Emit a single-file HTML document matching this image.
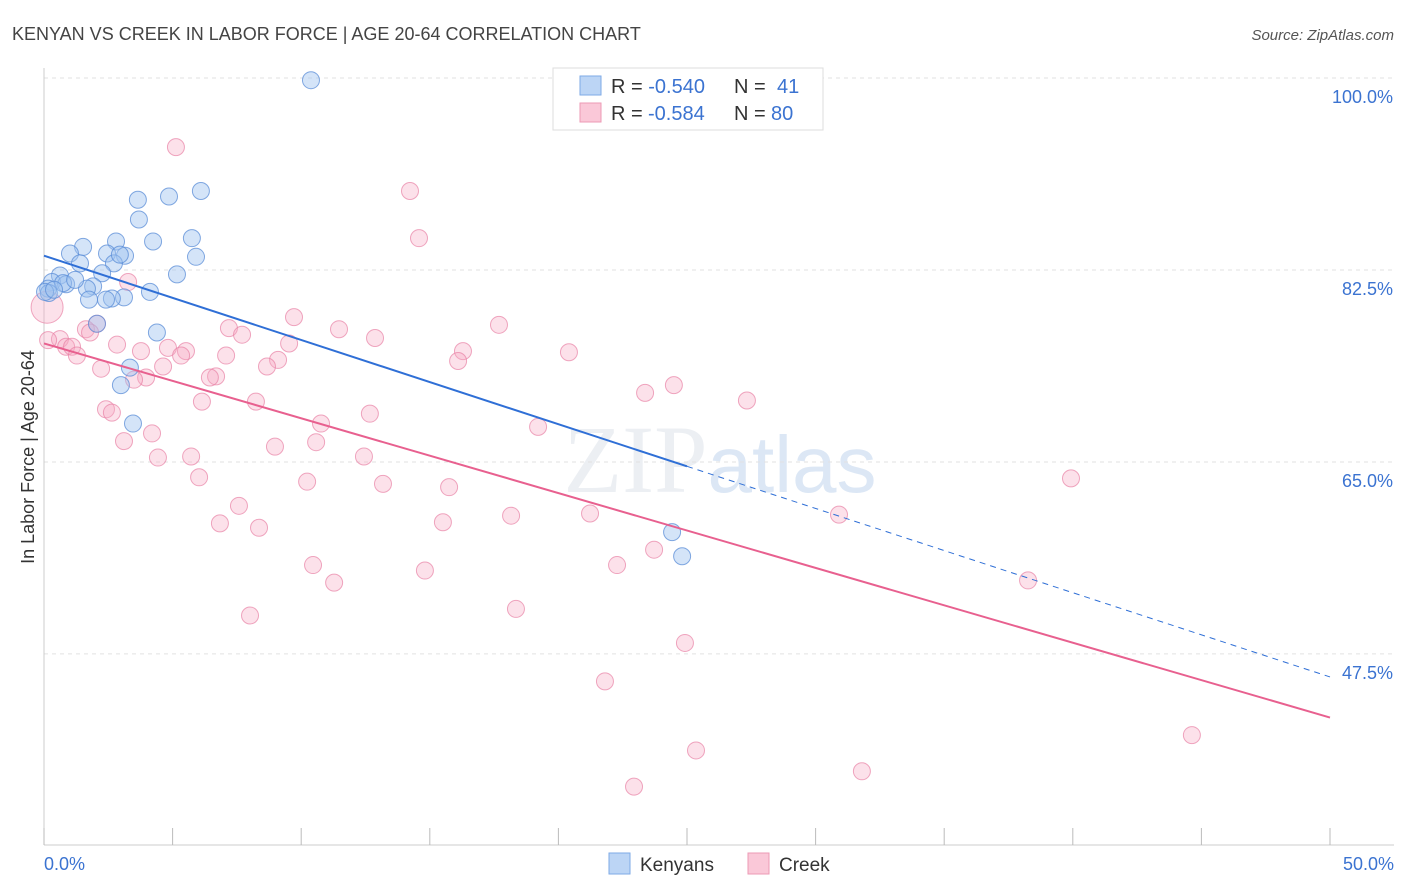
<!DOCTYPE html>
<html><head><meta charset="utf-8"><style>
body{margin:0;background:#fff;font-family:"Liberation Sans",sans-serif;}
svg{display:block}
</style></head><body>
<svg id="c" width="1406" height="892">
<text x="12" y="40" font-size="18" fill="#444">KENYAN VS CREEK IN LABOR FORCE | AGE 20-64 CORRELATION CHART</text>
<text x="1394" y="40" font-size="15" fill="#555" text-anchor="end" font-style="italic">Source: ZipAtlas.com</text>
<text x="720" y="492" font-size="96" fill="#eceff3" text-anchor="middle" font-family="Liberation Serif,serif">ZIP<tspan fill="#dce7f5" font-family="Liberation Sans,sans-serif" font-size="80">atlas</tspan></text>
<g id="grid"></g><g id="axes"></g><g id="marks"></g>
<g>
<rect x="553" y="68" width="270" height="62" fill="#fff" stroke="#ddd"/>
<rect x="580" y="76" width="21" height="19" fill="#bcd5f5" stroke="#7eaae6"/>
<rect x="580" y="103" width="21" height="19" fill="#fac8d8" stroke="#ec9ab5"/>
<text x="611" y="93" font-size="20" fill="#333">R = <tspan fill="#3b73d1">-0.540</tspan></text>
<text x="734" y="93" font-size="20" fill="#333">N =</text>
<text x="777" y="93" font-size="20" fill="#3b73d1">41</text>
<text x="611" y="120" font-size="20" fill="#333">R = </text>
<text x="648" y="120" font-size="20" fill="#3b73d1">-0.584</text>
<text x="734" y="120" font-size="20" fill="#333">N =</text>
<text x="771" y="120" font-size="20" fill="#3b73d1">80</text>
</g>
<g>
<rect x="609" y="853" width="21" height="21" fill="#bcd5f5" stroke="#7eaae6"/>
<text x="640" y="871" font-size="19" fill="#333">Kenyans</text>
<rect x="748" y="853" width="21" height="21" fill="#fac8d8" stroke="#ec9ab5"/>
<text x="779" y="871" font-size="19" fill="#333">Creek</text>
</g>
<text transform="translate(34,457) rotate(-90)" font-size="18" fill="#333" text-anchor="middle">In Labor Force | Age 20-64</text>
</svg>
<script>
const yTicks=[100,82.5,65,47.5];
const yTickLabels=["100.0%","82.5%","65.0%","47.5%"];
const xEdgeLabels=["0.0%","50.0%"];
const kenX=[10.38,3.65,4.86,6.10,3.69,4.24,2.80,5.75,1.52,1.01,2.45,3.15,5.91,1.40,2.72,0.62,2.26,5.17,0.31,0.86,1.91,0.16,1.67,4.12,3.11,2.64,1.75,2.41,0.19,2.06,4.39,3.34,2.99,3.46,24.42,24.81,0.74,1.21,0.04,0.39,2.95];
const kenY=[99.8,88.9,89.2,89.7,87.1,85.1,85.1,85.4,84.6,84.0,84.0,83.8,83.7,83.1,83.1,82.0,82.2,82.1,81.4,81.2,81.0,80.8,80.8,80.5,80.0,79.9,79.8,79.8,80.4,77.6,76.8,73.6,72.0,68.5,58.6,56.4,81.3,81.6,80.5,80.7,83.9];
const creX=[5.13,14.23,14.58,3.27,9.72,17.69,7.19,11.47,2.06,1.63,1.79,7.70,12.87,0.62,0.16,2.84,9.53,0.86,3.77,4.82,16.29,20.41,5.52,1.09,5.33,7.08,1.28,9.10,16.10,8.67,2.22,4.63,3.97,3.50,6.69,6.45,23.37,24.49,27.33,6.14,8.24,2.41,2.64,12.67,10.77,19.21,4.20,3.11,10.58,8.98,4.43,5.72,12.44,6.03,10.23,13.18,15.75,7.58,21.23,30.91,39.93,18.16,6.84,15.51,8.36,23.72,10.46,22.28,14.81,11.28,38.26,18.35,8.01,24.92,21.81,44.63,25.35,31.80,22.94,0.12];
const creY=[93.7,89.7,85.4,81.4,78.2,77.5,77.2,77.1,77.6,77.1,76.8,76.6,76.3,76.2,76.1,75.7,75.8,75.5,75.1,75.4,75.1,75.0,75.1,75.5,74.7,74.7,74.7,74.3,74.2,73.7,73.5,73.7,72.7,72.5,72.8,72.7,71.3,72.0,70.6,70.5,70.5,69.8,69.5,69.4,68.5,68.2,67.6,66.9,66.8,66.4,65.4,65.5,65.5,63.6,63.2,63.0,62.7,61.0,60.3,60.2,63.5,60.1,59.4,59.5,59.0,57.0,55.6,55.6,55.1,54.0,54.2,51.6,51.0,48.5,45.0,40.1,38.7,36.8,35.4,79.1];
const kenTrend=[83.8,45.4];
const creTrend=[75.8,41.7];
const NS="http://www.w3.org/2000/svg";
const X=v=>44+v/50*1286;
const Y=v=>78+(100-v)/0.09116;
function mk(p,tag,a){const e=document.createElementNS(NS,tag);for(const k in a)e.setAttribute(k,a[k]);document.getElementById(p).appendChild(e);return e;}
yTicks.forEach((t,i)=>{
 const g=mk('grid','line',{x1:44,x2:1394,y1:Y(t),y2:Y(t),stroke:'#e2e2e2','stroke-dasharray':'4,4'});
 
 
 const l=mk('axes','text',{x:1393,y:Y(t)+25,'font-size':18,fill:'#3b73d1','text-anchor':'end'});
 l.textContent=yTickLabels[i];
 
 
});
let ax=mk('axes','line',{x1:44,x2:44,y1:68,y2:845,stroke:'#ccc'});


ax=mk('axes','line',{x1:44,x2:1394,y1:845,y2:845,stroke:'#ccc'});


for(let i=0;i<=10;i++){const t=mk('axes','line',{x1:X(i*5),x2:X(i*5),y1:828,y2:845,stroke:'#bbb'});
 
 }
[[0,'start',44],[50,'end',1394]].forEach((d,i)=>{const t=mk('axes','text',{x:d[2],y:870,'font-size':18,fill:'#3b73d1','text-anchor':d[1]});t.textContent=xEdgeLabels[i];
 
 });
creX.forEach((x,i)=>{const r=(i===creX.length-1)?16:8.5;const c=mk('marks','circle',{cx:X(x),cy:Y(creY[i]),r:r,fill:'rgba(245,170,195,0.35)',stroke:'rgba(232,130,165,0.7)','stroke-width':1});
 
 });
kenX.forEach((x,i)=>{const c=mk('marks','circle',{cx:X(x),cy:Y(kenY[i]),r:8.5,fill:'rgba(160,195,240,0.45)',stroke:'rgba(90,140,215,0.75)','stroke-width':1});
 
 });
const ky=x=>kenTrend[0]+(kenTrend[1]-kenTrend[0])*x/50;
let l=mk('marks','line',{x1:X(0),y1:Y(ky(0)),x2:X(25),y2:Y(ky(25)),stroke:'#2f6fd6','stroke-width':2});


l=mk('marks','line',{x1:X(25),y1:Y(ky(25)),x2:X(50),y2:Y(ky(50)),stroke:'#2f6fd6','stroke-width':1,'stroke-dasharray':'6,5'});


l=mk('marks','line',{x1:X(0),y1:Y(creTrend[0]),x2:X(50),y2:Y(creTrend[1]),stroke:'#e8608f','stroke-width':2});


</script>
</body></html>
